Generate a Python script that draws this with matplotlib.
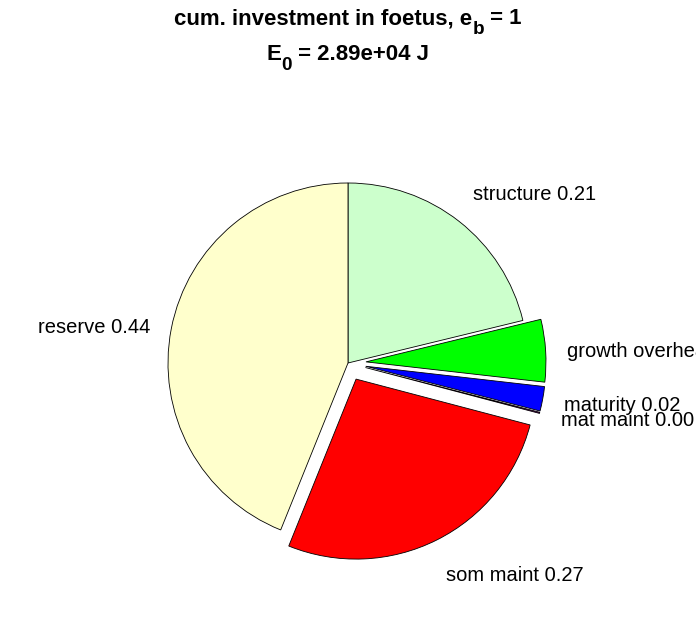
import numpy as np
import matplotlib
matplotlib.use("Agg")
import matplotlib.pyplot as plt

plt.rcParams["font.family"] = ["Liberation Sans", "DejaVu Sans"]

# fractions of cumulative investment (clockwise from top)
names = ["structure", "growth overhead", "maturity", "mat maint", "som maint", "reserve"]
fractions = [0.212, 0.056, 0.022, 0.001, 0.27, 0.439]
explode = [0, 0.1, 0.1, 0.1, 0.1, 0]
colors = ["#CCFFCC", "#00FF00", "#0000FF", "#7F007F", "#FF0000", "#FFFFCC"]

W, H = 696, 618
cx, cy, rpx = 348, 363, 180

fig = plt.figure(figsize=(W / 100, H / 100), dpi=100)
ax = fig.add_axes([0, 0, 1, 1])
ax.axis("off")

wedges, _ = ax.pie(fractions, explode=explode, startangle=90, counterclock=False,
                   colors=colors, radius=1,
                   wedgeprops=dict(edgecolor="black", linewidth=0.6))
ax.set_xlim(-cx / rpx, (W - cx) / rpx)
ax.set_ylim(-(H - cy) / rpx, cy / rpx)

total = sum(fractions)
for w, name, f in zip(wedges, names, fractions):
    th = np.deg2rad((w.theta1 + w.theta2) / 2)
    c, s = np.cos(th), np.sin(th)
    x0, y0 = w.center
    x, y = x0 + 1.12 * c, y0 + 1.12 * s
    ha = "left" if c > 0 else "right"
    if s > 0.5:
        va = "bottom"
    elif s < -0.5:
        va = "top"
        y -= 0.04
    else:
        va = "center"
        y -= 0.015
    ax.text(x, y, f"{name} {f / total:.2f}", ha=ha, va=va, fontsize=14.5)


def title_line(ypix, parts, size=16):
    # parts: (text, is_subscript); subscript drawn lower, like MATLAB
    r = fig.canvas.get_renderer()
    items = []
    for txt, sub in parts:
        t = fig.text(0, 0, txt, fontsize=size * 0.85 if sub else size,
                     fontweight="bold", ha="left", va="center")
        items.append((t, sub, t.get_window_extent(r).width))
    x = (W - sum(wd for _, _, wd in items)) / 2
    for t, sub, wd in items:
        yy = ypix + (10 if sub else 0)
        t.set_position((x / W, 1 - yy / H))
        x += wd


title_line(19, [("cum. investment in foetus, e", False), ("b", True), (" = 1", False)])
title_line(55, [("E", False), ("0", True), (" = 2.89e+04 J", False)])

fig.savefig("out.png", dpi=100)
